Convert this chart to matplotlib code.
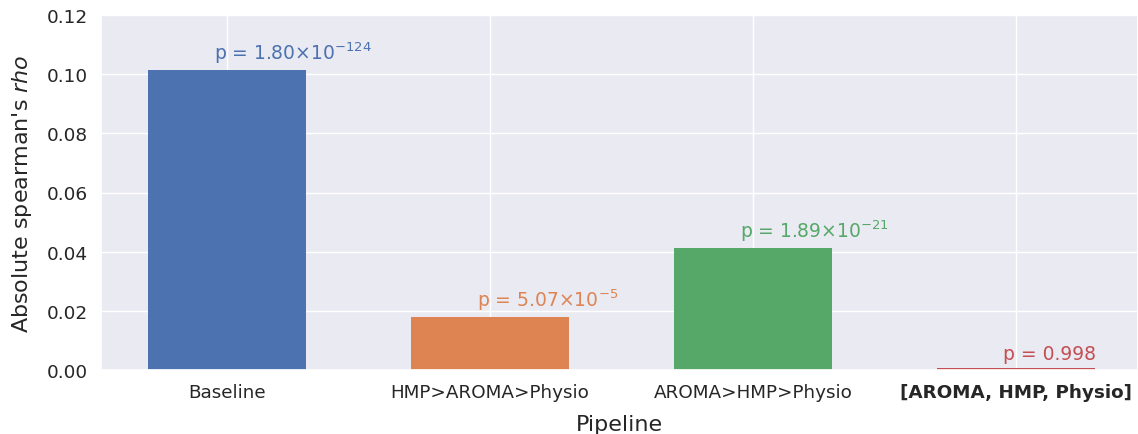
import matplotlib
matplotlib.use("Agg")
import matplotlib.pyplot as plt
import seaborn as sns

categories = ["Baseline", "HMP>AROMA>Physio", "AROMA>HMP>Physio", "[AROMA, HMP, Physio]"]
rho_values = [0.1015, 0.0180, 0.0413, 0.0007]
p_labels = [r"p = 1.80$\times10^{-124}$", r"p = 5.07$\times10^{-5}$",
            r"p = 1.89$\times10^{-21}$", "p = 0.998"]
yticks = [0.00, 0.02, 0.04, 0.06, 0.08, 0.10, 0.12]

sns.set_theme(style="darkgrid")
plt.rcParams['font.family'] = ['DejaVu Sans']
plt.rcParams['mathtext.fontset'] = 'dejavusans'
colors = sns.color_palette("deep")[:4]

fig = plt.figure(figsize=(11.38, 4.35), dpi=100)
ax = fig.add_axes([101/1138, 64/435, 1037/1138, 355/435])
x = list(range(len(categories)))
ax.bar(x, rho_values, width=0.6, color=colors, edgecolor='none', linewidth=0)
for i, (v, lab) in enumerate(zip(rho_values, p_labels)):
    ax.text(i - 0.05, v + 0.0015, lab, color=colors[i], fontsize=13.5,
            ha='left', va='bottom')
ax.set_xlim(-0.48, 3.464)
ax.set_ylim(0, 0.12)
ax.set_yticks(yticks)
ax.set_yticklabels([f"{t:.2f}" for t in yticks], fontsize=13.3)
ax.set_xticks(x)
ax.set_xticklabels(categories, fontsize=13.2)
ax.get_xticklabels()[-1].set_fontweight('bold')
ax.set_xlabel("Pipeline", fontsize=16, labelpad=9)
ax.set_ylabel(r"Absolute spearman's $\it{rho}$", fontsize=16, labelpad=9)
fig.savefig("out.png", dpi=100)
